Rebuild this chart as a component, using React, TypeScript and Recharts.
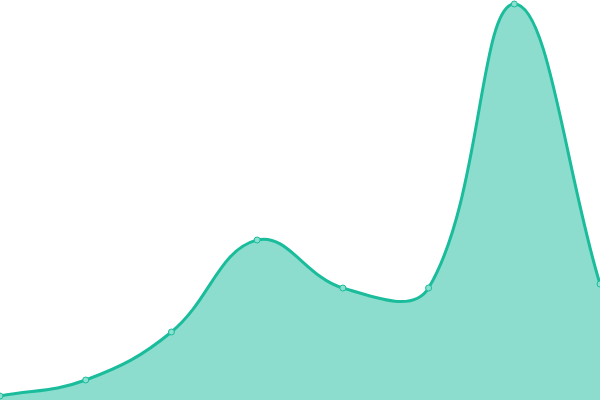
import React from 'react';
import { AreaChart, Area, XAxis, YAxis } from 'recharts';

const categories = ['A', 'B', 'C', 'D', 'E', 'F', 'G', 'H'];
const values = [1, 5, 17, 40, 28, 28, 99, 29];

const data = categories.map((c, i) => ({ name: c, value: values[i] }));

const TENSION = 0.4;

class TensionCurve {
  _context: any;
  _t: number;
  _line: number = NaN;
  _xs: number[] = [];
  _ys: number[] = [];
  constructor(context: any, t: number) {
    this._context = context;
    this._t = t;
  }
  areaStart() {
    this._line = 0;
  }
  areaEnd() {
    this._line = NaN;
  }
  lineStart() {
    this._xs = [];
    this._ys = [];
  }
  point(x: number, y: number) {
    this._xs.push(+x);
    this._ys.push(+y);
  }
  lineEnd() {
    const xs = this._xs;
    const ys = this._ys;
    const n = xs.length;
    const ctx = this._context;
    if (n) {
      if (this._line) ctx.lineTo(xs[0], ys[0]);
      else ctx.moveTo(xs[0], ys[0]);
      if (n === 2) {
        ctx.lineTo(xs[1], ys[1]);
      } else if (n > 2) {
        const cpPx: number[] = [];
        const cpPy: number[] = [];
        const cpNx: number[] = [];
        const cpNy: number[] = [];
        for (let i = 0; i < n; i++) {
          const px = i > 0 ? xs[i - 1] : xs[i];
          const py = i > 0 ? ys[i - 1] : ys[i];
          const nx = i < n - 1 ? xs[i + 1] : xs[i];
          const ny = i < n - 1 ? ys[i + 1] : ys[i];
          const d01 = Math.hypot(xs[i] - px, ys[i] - py);
          const d12 = Math.hypot(nx - xs[i], ny - ys[i]);
          const sum = d01 + d12 || 1;
          const fa = (this._t * d01) / sum;
          const fb = (this._t * d12) / sum;
          cpPx[i] = xs[i] - fa * (nx - px);
          cpPy[i] = ys[i] - fa * (ny - py);
          cpNx[i] = xs[i] + fb * (nx - px);
          cpNy[i] = ys[i] + fb * (ny - py);
        }
        for (let i = 1; i < n; i++) {
          ctx.bezierCurveTo(cpNx[i - 1], cpNy[i - 1], cpPx[i], cpPy[i], xs[i], ys[i]);
        }
      }
    }
    if (this._line || (this._line !== 0 && n === 1)) ctx.closePath();
    this._line = 1 - this._line;
  }
}

const tensionCurve: any = (context: any) => new TensionCurve(context, TENSION);

export default function App() {
  return (
    <div style={{ position: 'absolute', left: 0, top: 0, width: 600, height: 400 }}>
      <AreaChart width={600} height={400} data={data} margin={{ top: 0, right: 0, bottom: 0, left: 0 }}>
        <XAxis dataKey="name" hide padding={{ left: 0, right: 0 }} />
        <YAxis hide domain={[0, 100]} />
        <Area
          type={tensionCurve}
          dataKey="value"
          stroke="#1abc9c"
          strokeWidth={3}
          fill="#1abc9c"
          fillOpacity={0.5}
          dot={{ r: 3, fill: '#8ae0cf', stroke: '#1abc9c', strokeWidth: 1, fillOpacity: 1 }}
          activeDot={false}
          isAnimationActive={false}
        />
      </AreaChart>
    </div>
  );
}
